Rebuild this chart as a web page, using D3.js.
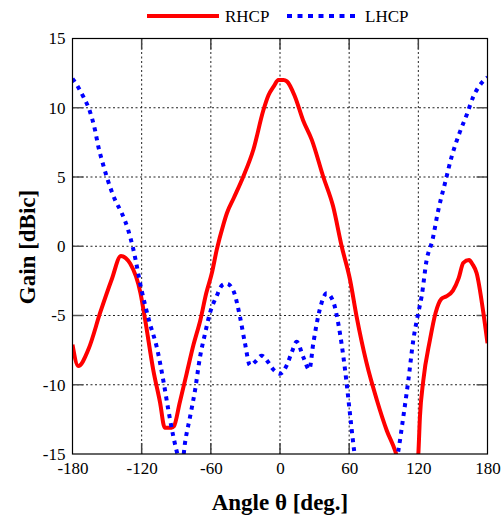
<!DOCTYPE html>
<html><head><meta charset="utf-8">
<script src="https://cdn.jsdelivr.net/npm/d3@7"></script>
<style>body{margin:0;background:#fff}svg{display:block}</style>
</head><body>
<script>
const xTicks = [-180,-120,-60,0,60,120,180];
const yTicks = [-15,-10,-5,0,5,10,15];
const rhcpAngle = [-180,-175,-166,-156,-146,-138,-130,-121,-117,-110,-104,-100,-94,-92,-87,-81,-75,-69,-64,-59,-55,-49,-46,-40,-32,-23,-14.5,-10,-5,-1.5,3,6,13,20,27.5,37.6,46,53.5,60.7,66.5,75,84,92.6,100,105,110,115,119,120,121.4,124.3,130,135,140,144.6,150,155,159,164,167,170.6,176.4,180];
const rhcpGain  = [-7.1,-8.65,-7.4,-4.8,-2.4,-0.7,-1.25,-3.4,-5.3,-8.9,-11.3,-13.1,-13.1,-13.0,-11.3,-9.2,-7.1,-5.3,-3.4,-1.9,-0.3,1.6,2.4,3.5,5.0,7.0,9.8,10.9,11.6,12.0,12.0,11.9,10.8,9.1,7.7,5.0,2.9,0.0,-2.4,-5.1,-8.4,-11.1,-13.3,-14.8,-16.3,-17.2,-17.0,-16.0,-15.0,-12.3,-9.7,-6.8,-4.8,-3.8,-3.6,-3.2,-2.3,-1.2,-1.0,-1.3,-1.95,-4.8,-7.0];
const lhcpAngle = [-180,-178.7,-170.6,-164.8,-160.5,-157.6,-153.8,-148.9,-143.1,-137.3,-131.6,-127.3,-120,-112.8,-107,-101.2,-96.9,-92.6,-88,-86,-84,-82.4,-78,-73.7,-69.4,-65,-60.7,-55,-50,-46.2,-40.5,-34.7,-30.4,-26,-21,-15.9,-10,-5.8,0,5.8,10,14.5,20.2,25.4,28.9,34.7,40.5,46.2,50.6,56.4,60.7,64.2,68,80,95,100,102.6,107,111.3,115.6,120,122.9,127.2,132.1,137.3,143.1,149,155.6,162,167.7,175,180];
const lhcpGain  = [12.1,11.95,10.8,9.7,8.4,7.2,6.0,4.65,3.35,2.4,1.15,-0.2,-3.2,-5.6,-7.25,-9.7,-11.8,-13.7,-15.2,-15.4,-15.2,-14.2,-12.3,-10.4,-8.0,-6.3,-4.8,-3.6,-2.8,-2.7,-3.2,-5.1,-7.0,-8.6,-8.3,-7.9,-8.4,-8.9,-9.2,-8.6,-7.7,-6.9,-8.0,-8.9,-7.0,-4.5,-3.4,-4.0,-5.6,-8.9,-12.1,-14.7,-17,-19,-18,-16,-14.8,-12.3,-9.7,-6.8,-4.8,-3.6,-1.0,0.4,2.6,4.55,6.5,8.15,9.5,10.8,11.8,12.2];

const W = 502, H = 519;
const m = {left:72.5, right:487.5, top:38.5, bottom:454};
const svg = d3.select("body").append("svg").attr("width",W).attr("height",H);
const x = d3.scaleLinear().domain([-180,180]).range([m.left,m.right]);
const y = d3.scaleLinear().domain([-15,15]).range([m.bottom,m.top]);
const serif = "Liberation Serif, Times New Roman, serif";

// grid
const g = svg.append("g");
g.selectAll(".vg").data(xTicks.slice(1,-1)).enter().append("line")
  .attr("x1",d=>x(d)).attr("x2",d=>x(d)).attr("y1",m.top).attr("y2",m.bottom)
  .attr("stroke","#222").attr("stroke-width",1).attr("stroke-dasharray","2,2.5");
g.selectAll(".hg").data(yTicks.slice(1,-1)).enter().append("line")
  .attr("y1",d=>y(d)).attr("y2",d=>y(d)).attr("x1",m.left).attr("x2",m.right)
  .attr("stroke","#222").attr("stroke-width",1).attr("stroke-dasharray","2,2.5");
// inner ticks
const tl = 11;
xTicks.slice(1,-1).forEach(d=>{
  g.append("line").attr("x1",x(d)).attr("x2",x(d)).attr("y1",m.top).attr("y2",m.top+tl).attr("stroke","#444").attr("stroke-width",1.5);
  g.append("line").attr("x1",x(d)).attr("x2",x(d)).attr("y1",m.bottom).attr("y2",m.bottom-tl).attr("stroke","#444").attr("stroke-width",1.5);
});
yTicks.slice(1,-1).forEach(d=>{
  g.append("line").attr("y1",y(d)).attr("y2",y(d)).attr("x1",m.left).attr("x2",m.left+tl).attr("stroke","#555").attr("stroke-width",1.5);
  g.append("line").attr("y1",y(d)).attr("y2",y(d)).attr("x1",m.right).attr("x2",m.right-tl).attr("stroke","#555").attr("stroke-width",1.5);
});

// axes labels using d3 axes
const fmt = d => String(d);
const xAxis = svg.append("g").attr("transform",`translate(0,${m.bottom})`)
  .call(d3.axisBottom(x).tickValues(xTicks).tickFormat(fmt).tickSize(0).tickPadding(8));
const yAxis = svg.append("g").attr("transform",`translate(${m.left},0)`)
  .call(d3.axisLeft(y).tickValues(yTicks).tickFormat(fmt).tickSize(0).tickPadding(7));
[xAxis,yAxis].forEach(a=>{
  a.attr("font-family",serif).attr("font-size",17);
  a.select(".domain").remove();
  a.selectAll("text").style("font-family",serif).style("font-size","17px").attr("fill","#000");
});

// clip
svg.append("clipPath").attr("id","clip").append("rect")
  .attr("x",m.left).attr("y",m.top).attr("width",m.right-m.left).attr("height",m.bottom-m.top);

const line = d3.line().x(d=>x(d[0])).y(d=>y(d[1])).curve(d3.curveMonotoneX);
const rh = rhcpAngle.map((a,i)=>[a,rhcpGain[i]]);
const lh = lhcpAngle.map((a,i)=>[a,lhcpGain[i]]);
const plot = svg.append("g").attr("clip-path","url(#clip)");
plot.append("path").datum(rh).attr("d",line).attr("fill","none")
  .attr("stroke","#ff0000").attr("stroke-width",4).attr("stroke-linejoin","round");
plot.append("path").datum(lh).attr("d",line).attr("fill","none")
  .attr("stroke","#0000ff").attr("stroke-width",4).attr("stroke-dasharray","4,5");

// frame
svg.append("rect").attr("x",m.left).attr("y",m.top).attr("width",m.right-m.left).attr("height",m.bottom-m.top)
  .attr("fill","none").attr("stroke","#000").attr("stroke-width",1.2);

// titles
svg.append("text").attr("x",(m.left+m.right)/2).attr("y",510).attr("text-anchor","middle")
  .style("font-family",serif).attr("font-weight","bold").attr("font-size",23).text("Angle θ [deg.]");
svg.append("text").attr("transform",`translate(35,247) rotate(-90)`).attr("text-anchor","middle")
  .style("font-family",serif).attr("font-weight","bold").attr("font-size",23).text("Gain [dBic]");

// legend
const leg = svg.append("g");
leg.append("line").attr("x1",147).attr("x2",219).attr("y1",16).attr("y2",16).attr("stroke","#ff0000").attr("stroke-width",4);
leg.append("text").attr("x",225).attr("y",22).style("font-family",serif).attr("font-size",17).text("RHCP");
leg.append("line").attr("x1",287).attr("x2",359).attr("y1",16).attr("y2",16).attr("stroke","#0000ff").attr("stroke-width",4).attr("stroke-dasharray","5,5.5");
leg.append("text").attr("x",365).attr("y",22).style("font-family",serif).attr("font-size",17).text("LHCP");
</script>
</body></html>
